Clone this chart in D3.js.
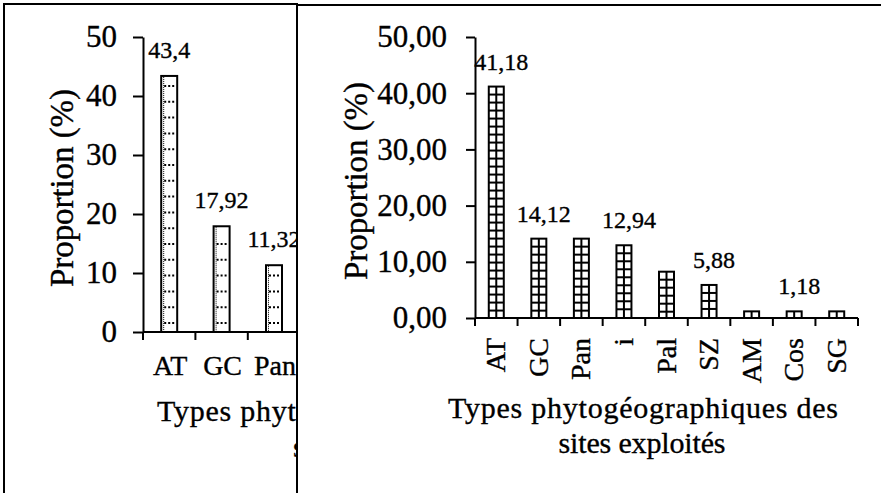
<!DOCTYPE html>
<html><head><meta charset="utf-8">
<script src="https://cdn.jsdelivr.net/npm/d3@7"></script>
<style>
body{margin:0;background:#fff}
svg{display:block}
text{font-family:"Liberation Serif","Times New Roman",serif;fill:#000;stroke:#000;stroke-width:0.35px}
</style>
</head><body>
<svg id="c" width="881" height="493"></svg>
<script>
// ---- data ----
const leftCategories = ["AT", "GC", "Pan"];
const leftValues = [43.4, 17.92, 11.32];
const leftLabels = ["43,4", "17,92", "11,32"];
const leftTicks = [0, 10, 20, 30, 40, 50];
const leftTickLabels = ["0", "10", "20", "30", "40", "50"];

const rightCategories = ["AT", "GC", "Pan", "i", "Pal", "SZ", "AM", "Cos", "SG"];
const rightValues = [41.18, 14.12, 14.12, 12.94, 8.24, 5.88, 1.18, 1.18, 1.18];
const rightLabels = ["41,18", "14,12", "", "12,94", "", "5,88", "", "1,18", ""];
const rightTicks = [0, 10, 20, 30, 40, 50];
const rightTickLabels = ["0,00", "10,00", "20,00", "30,00", "40,00", "50,00"];

const yTitle = "Proportion  (%)";
const xTitleLine1 = "Types  phytogéographiques  des";
const xTitleLine2 = "sites  exploités";

// ---- drawing ----
const svg = d3.select("#c");

function panel(o) {
  const g = svg.append("g");
  g.append("rect").attr("x", o.frame[0]).attr("y", o.frame[1])
    .attr("width", o.frame[2]).attr("height", o.frame[3])
    .attr("fill", "#fff").attr("stroke", "#000").attr("stroke-width", 2);

  const x = d3.scaleBand().domain(o.cats).range(o.xr).paddingInner(0).paddingOuter(0);
  const y = d3.scaleLinear().domain([0, 50]).range(o.yr);

  const ya = g.append("g").attr("transform", `translate(${o.xr[0]},0)`)
    .call(d3.axisLeft(y).tickValues(o.ticks).tickFormat((d, i) => o.tickLabels[i])
      .tickSize(o.tickSize).tickSizeOuter(0).tickPadding(o.tickPad));
  ya.select(".domain").attr("stroke", "#000").attr("stroke-width", 2);
  ya.selectAll(".tick line").attr("stroke", "#000").attr("stroke-width", 2);
  ya.selectAll(".tick text").style("font-size", o.tickFont + "px")
    .style("font-family", '"Liberation Serif",serif').attr("fill", "#000");

  const y0 = y(0);
  const xEnd = o.xAxisEnd || o.xr[1];
  g.append("line").attr("x1", o.xr[0]).attr("x2", xEnd).attr("y1", y0).attr("y2", y0)
    .attr("stroke", "#000").attr("stroke-width", 2);
  const bounds = d3.range(o.cats.length + 1).map(i => o.xr[0] + i * x.step());
  g.selectAll(".xt").data(bounds).join("line")
    .attr("x1", d => d).attr("x2", d => d).attr("y1", y0).attr("y2", y0 + o.xTick)
    .attr("stroke", "#000").attr("stroke-width", 2);

  const bw = o.barW;
  o.vals.forEach((v, i) => {
    const cx = x(o.cats[i]) + x.bandwidth() / 2;
    const top = y(v), bot = y0;
    const l = cx - bw / 2, r = cx + bw / 2;
    const bg = g.append("g");
    bg.append("rect").attr("x", l).attr("y", top).attr("width", bw).attr("height", bot - top)
      .attr("fill", "#fff").attr("stroke", "#000").attr("stroke-width", 2);
    if (o.pattern === "dots") {
      for (let yy = bot - 9; yy > top + 3; yy -= 15.8) {
        bg.append("line").attr("x1", l + 3).attr("x2", r - 2).attr("y1", yy).attr("y2", yy)
          .attr("stroke", "#000").attr("stroke-width", 2).attr("stroke-dasharray", "2,2");
      }
      bg.append("line").attr("x1", l + 2.5).attr("x2", l + 2.5).attr("y1", top + 1).attr("y2", bot)
        .attr("stroke", "#000").attr("stroke-width", 1).attr("stroke-dasharray", "1,1");
    } else {
      for (let yy = top + 8; yy < bot - 2; yy += 8) {
        bg.append("line").attr("x1", l).attr("x2", r).attr("y1", yy).attr("y2", yy)
          .attr("stroke", "#000").attr("stroke-width", 2);
      }
      bg.append("line").attr("x1", cx).attr("x2", cx).attr("y1", top).attr("y2", bot)
        .attr("stroke", "#000").attr("stroke-width", 2);
    }
    if (o.labels[i]) {
      g.append("text").attr("x", cx + o.labelDx).attr("y", top - o.labelGap)
        .attr("text-anchor", "middle").style("font-size", o.labelFont + "px").text(o.labels[i]);
    }
    if (o.rotate) {
      g.append("text").attr("transform", `translate(${cx + 9},${y0 + 20}) rotate(-90)`)
        .attr("text-anchor", "end").style("font-size", o.catFont + "px").text(o.cats[i]);
    } else {
      g.append("text").attr("x", cx + 1).attr("y", o.catY)
        .attr("text-anchor", "middle").style("font-size", o.catFont + "px").text(o.cats[i]);
    }
  });

  g.append("text").attr("transform", `translate(${o.yTitle[0]},${o.yTitle[1]}) rotate(-90)`)
    .attr("text-anchor", "middle").style("font-size", "33px")
    .attr("textLength", 198).attr("lengthAdjust", "spacing").text(yTitle);
  g.append("text").attr("x", o.xTitle[0]).attr("y", o.xTitle[1]).attr("text-anchor", "middle")
    .style("font-size", "30px").attr("textLength", 390).attr("lengthAdjust", "spacing").text(xTitleLine1);
  g.append("text").attr("x", o.xTitle2[0]).attr("y", o.xTitle2[1]).attr("text-anchor", o.xTitle2[2])
    .style("font-size", "30px").attr("textLength", 167).attr("lengthAdjust", "spacing").text(xTitleLine2);
}

panel({
  frame: [4, 4, 293, 500],
  cats: leftCategories, vals: leftValues, labels: leftLabels,
  ticks: leftTicks, tickLabels: leftTickLabels,
  xr: [143, 143 + 3 * 52.4], yr: [332, 37], xAxisEnd: 330,
  tickSize: 10, tickPad: 16, tickFont: 31, xTick: 8,
  barW: 16, pattern: "dots", labelFont: 24, labelGap: 18, labelDx: 0,
  catFont: 28, catY: 375, rotate: false,
  yTitle: [73, 188], xTitle: [352, 421], xTitle2: [293, 457, "start"]
});

panel({
  frame: [297, 5, 600, 500],
  cats: rightCategories, vals: rightValues, labels: rightLabels,
  ticks: rightTicks, tickLabels: rightTickLabels,
  xr: [475, 858], yr: [318, 37],
  tickSize: 9, tickPad: 19, tickFont: 31, xTick: 8,
  barW: 15, pattern: "grid", labelFont: 24, labelGap: 17, labelDx: 5,
  catFont: 28, rotate: true,
  yTitle: [367, 181], xTitle: [643, 418], xTitle2: [642, 453, "middle"]
});
</script>
</body></html>
